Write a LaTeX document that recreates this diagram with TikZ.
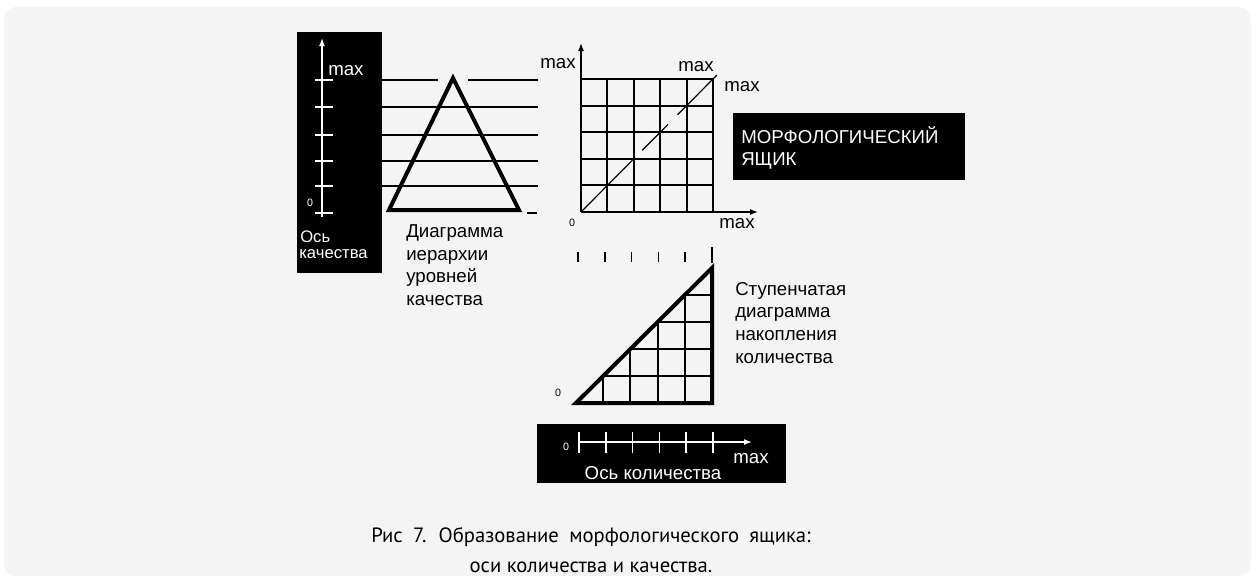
\documentclass[tikz,border=0pt]{standalone}
\usepackage{fontspec}
\setmainfont{Liberation Sans}
\newfontfamily\capfont{PT Sans}
\usepackage{xcolor}
\definecolor{bggray}{HTML}{F4F4F4}
\usetikzlibrary{positioning, arrows.meta, calc}

\begin{document}
\begin{tikzpicture}[
    x=0.75pt, y=-0.75pt,
    font=\fontsize{14}{17}\selectfont,
    panel/.style={fill=black},
    lbl/.style={inner sep=0pt, align=left},
    wlbl/.style={lbl, text=white},
    zero/.style={inner sep=0pt, font=\fontsize{8}{9}\selectfont},
    lvl/.style={line width=1.1pt},
    gridln/.style={line width=1.4pt},
    heavy/.style={line width=3pt, line join=miter},
    axis/.style={line width=1.1pt, -{Latex[length=6pt, width=4.5pt]}},
]
% background card
\useasboundingbox (0,0) rectangle (1258,576);
\fill[white] (0,0) rectangle (1258,576);
\fill[bggray, rounded corners=9pt] (4,7) rectangle (1251,576);

% --- quality axis (left panel) ---
\fill[panel] (297,32) rectangle (382,273);
\coordinate (q0) at (322,217);
\coordinate (qtop) at (322,38);
\draw[axis, white] (q0) -- (qtop);
\foreach \y in {80,107,135,161,186,213}
    \draw[lvl, white] (315,\y) -- (333,\y);
\node[wlbl, anchor=base west] (qmax) at (328,75) {max};
\node[zero, text=white] (qzero) at (310,203) {0};
\node[wlbl, anchor=base west, font=\fontsize{12.5}{10}\selectfont] (qname1) at (300,242) {Ось};
\node[wlbl, anchor=base west, font=\fontsize{12.5}{10}\selectfont] (qname2) at (299,258) {качества};

% levels and hierarchy triangle
\draw[lvl] (368,80) -- (438,80) (468,80) -- (538,80);
\foreach \y in {107,135,161,186}
    \draw[lvl] (372,\y) -- (538,\y);
\draw[lvl] (372,213) -- (380,213) (527,213) -- (537,213);
\draw[heavy] (389,210) -- (453,78) -- (519,210) -- cycle;
\node[lbl, anchor=north west] (hier) at (406,224.5) {Диаграмма\\иерархии\\уровней\\качества};

% --- morphological box grid ---
\foreach \i in {0,...,5} {
    \draw[gridln] (581+26.4*\i,79) -- (581+26.4*\i,212);
    \draw[gridln] (581,79+26.6*\i) -- (713,79+26.6*\i);
}
\coordinate (g0) at (581,212);
\coordinate (gy) at (581,43);
\coordinate (gx) at (758,212);
\coordinate (gd) at (717,75);
\draw[axis] (g0) -- (gy);
\draw[axis] (g0) -- (gx);
\draw[line width=0.9pt] (g0) -- ($(g0)!0.38!(gd)$) ($(g0)!0.45!(gd)$) -- ($(g0)!0.64!(gd)$)
    ($(g0)!0.71!(gd)$) -- (gd);
\node[lbl] (gmaxy) at (558,64) {max};
\node[lbl] (gmaxd) at (696,67) {max};
\node[lbl] (gmaxz) at (742,87) {max};
\node[zero] (gzero) at (572,223) {0};
\node[lbl] (gmaxx) at (737,224) {max};

\fill[panel] (733,113) rectangle (965,180);
\node[wlbl, anchor=north west, font=\fontsize{14}{16.5}\selectfont] (morph) at (741,126) {МОРФОЛОГИЧЕСКИЙ\\ЯЩИК};

% --- stepped accumulation diagram ---
\foreach \i in {0,...,4}
    \draw[lvl] (578+26.8*\i,252) -- (578+26.8*\i,262);
\draw[lvl] (712,247) -- (712,263);
\foreach \i in {1,...,4} {
    \draw[gridln] (576+27.2*\i,403) -- (576+27.2*\i,403-27*\i);
    \draw[gridln] (576+27.2*\i,403-27*\i) -- (712,403-27*\i);
}
\draw[heavy] (576,403) -- (712,268) -- (712,403) -- cycle;
\node[zero] (szero) at (558,393) {0};
\node[lbl, anchor=north west] (step) at (735,282) {Ступенчатая\\диаграмма\\накопления\\количества};

% --- quantity axis (bottom panel) ---
\fill[panel] (537,424) rectangle (786,483);
\coordinate (k0) at (579,442);
\coordinate (kx) at (752,442);
\draw[axis, white] (k0) -- (kx);
\foreach \i in {0,...,5}
    \draw[lvl, white] (579+26.8*\i,432) -- (579+26.8*\i,453);
\node[zero, text=white] (kzero) at (566,447) {0};
\node[wlbl] (kmax) at (751,459) {max};
\node[wlbl] (kname) at (653,473) {Ось количества};

% caption
\node[align=center, inner sep=0pt, font=\capfont\fontsize{15.5}{22.5}\selectfont] (cap) at (591,550)
    {\spaceskip=0.5em Рис 7. Образование морфологического ящика:\\оси количества и качества.};

\end{tikzpicture}
\end{document}
